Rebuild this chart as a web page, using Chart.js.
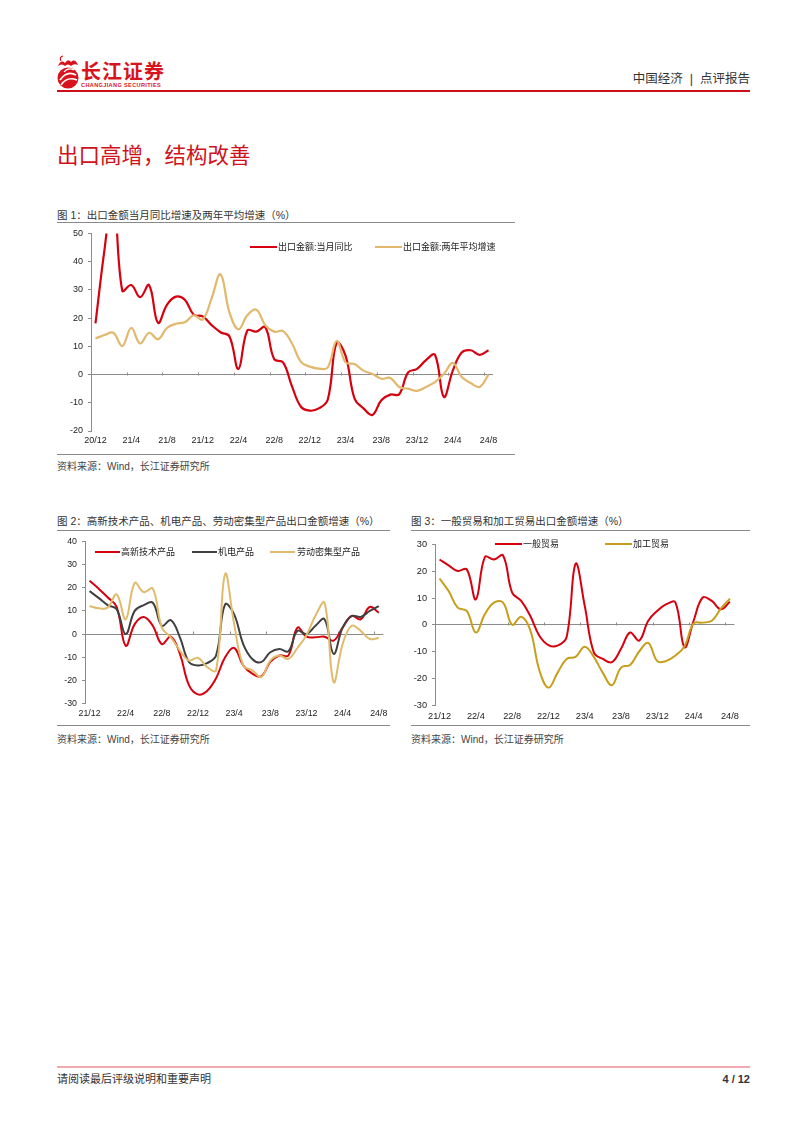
<!DOCTYPE html>
<html lang="zh-CN">
<head>
<meta charset="utf-8">
<script src="https://cdn.jsdelivr.net/npm/chart.js@4.4.1/dist/chart.umd.min.js"></script>
<style>
html,body{margin:0;padding:0;background:#fff;}
#page{position:relative;width:802px;height:1133px;overflow:hidden;font-family:"Liberation Sans","Noto Sans CJK SC",sans-serif;color:#333;}
.t{position:absolute;white-space:pre;line-height:1;}
.hr{position:absolute;height:1px;background:#8a8a8a;}
canvas{position:absolute;}
.lg-line{position:absolute;height:2px;}
</style>
</head>
<body>
<div id="page">
  <svg style="position:absolute;left:55px;top:55px" width="26" height="36" viewBox="0 0 26 36">
    <path d="M3 11 Q6 4 10 8 Q13 3 16 7 Q20 3 23 10 Q19 8 16 11 Q13 8 10 11 Q7 8 3 11 Z" fill="#d7141e"/>
    <path d="M6 6 Q4 2 8 1" stroke="#d7141e" stroke-width="1.2" fill="none"/>
    <circle cx="13" cy="23" r="10.5" fill="#d7141e"/>
    <path d="M5 25 Q12 15 21 20" stroke="#fff" stroke-width="1.6" fill="none"/>
    <path d="M6 30 Q12 21 22 25" stroke="#fff" stroke-width="1.6" fill="none"/>
    <path d="M9 17 Q13 12 19 15" stroke="#fff" stroke-width="1.2" fill="none"/>
  </svg>
  <div class="t" style="left:81px;top:61px;font-size:20px;font-weight:bold;color:#d7141e;letter-spacing:1px;font-family:'Noto Sans CJK SC',sans-serif;">长江证券</div>
  <div class="t" style="left:81px;top:83px;font-size:5.6px;font-weight:bold;color:#d7141e;letter-spacing:0.35px;">CHANGJIANG SECURITIES</div>
  <canvas id="c1"></canvas>
  <canvas id="c2"></canvas>
  <canvas id="c3"></canvas>
</div>
<script>
// ---------------- DATA ----------------
const months1 = ['20/12','21/1','21/2','21/3','21/4','21/5','21/6','21/7','21/8','21/9','21/10','21/11','21/12',
  '22/1','22/2','22/3','22/4','22/5','22/6','22/7','22/8','22/9','22/10','22/11','22/12',
  '23/1','23/2','23/3','23/4','23/5','23/6','23/7','23/8','23/9','23/10','23/11','23/12',
  '24/1','24/2','24/3','24/4','24/5','24/6','24/7','24/8'];
const tickLabels1 = ['20/12','21/4','21/8','21/12','22/4','22/8','22/12','23/4','23/8','23/12','24/4','24/8'];
const seriesNames1 = ['出口金额:当月同比', '出口金额:两年平均增速'];
const exportYoY = [18.1, 44, 65, 29.7, 31.7, 27.4, 31.7, 18.3, 24.7, 27.6, 26.5, 21.2, 20.6,
  17.5, 15.0, 13.5, 2.0, 15.6, 15.2, 16.8, 5.5, 4.3, -4.2, -11.4, -12.8,
  -12.0, -8.9, 11.3, 6.6, -8.5, -12.0, -14.3, -9.1, -7.1, -7.0, 0.8, 2.0,
  5.1, 7.0, -7.9, 1.4, 7.8, 8.6, 7.0, 8.6];
const exportTwoYear = [12.8, 14.0, 14.8, 10.1, 16.5, 11.0, 14.8, 12.5, 16.5, 18.0, 18.5, 21.0, 19.5,
  27.0, 35.5, 22.0, 16.0, 21.0, 23.0, 17.5, 15.2, 15.4, 11.0, 4.5, 2.8,
  2.1, 2.5, 11.9, 4.3, 3.7, 1.4, 0.2, -1.5, -1.2, -4.4, -5.0, -5.8,
  -4.4, -2.7, 0.2, 4.1, -0.9, -3.0, -4.4, 0.0];

const months23 = ['21/12',
  '22/1','22/2','22/3','22/4','22/5','22/6','22/7','22/8','22/9','22/10','22/11','22/12',
  '23/1','23/2','23/3','23/4','23/5','23/6','23/7','23/8','23/9','23/10','23/11','23/12',
  '24/1','24/2','24/3','24/4','24/5','24/6','24/7','24/8'];
const tickLabels23 = ['21/12','22/4','22/8','22/12','23/4','23/8','23/12','24/4','24/8'];
const seriesNames2 = ['高新技术产品', '机电产品', '劳动密集型产品'];
const hiTech = [23.0, 19.6, 15.9, 11.7, -5.0, 4.3, 7.4, 3.6, -4.3, -1.1, -8.5, -22.0, -26.0,
  -24.5, -19.0, -10.0, -6.0, -13.5, -17.0, -18.2, -12.0, -9.2, -9.2, 2.8, -1.1,
  -1.4, -1.1, -2.8, 2.8, 7.8, 6.4, 11.7, 9.2];
const mechElec = [18.5, 15.6, 12.5, 10.7, 0.0, 10.0, 12.5, 13.5, 3.6, 6.0, -1.4, -12.0, -13.5,
  -12.5, -9.2, 12.8, 8.5, -4.3, -10.7, -12.1, -7.8, -6.4, -7.4, 1.4, 0.0,
  3.6, 6.4, -8.5, 2.8, 7.8, 7.4, 10.0, 12.1];
const laborInt = [12.1, 11.1, 11.4, 17.1, 6.4, 22.0, 18.1, 19.6, 2.8, -1.4, -7.1, -11.4, -10.2,
  -14.2, -15.6, 25.9, 4.3, -13.5, -15.6, -18.5, -11.4, -9.2, -10.7, -6.0, -0.5,
  8.0, 13.5, -20.6, -4.3, 3.6, 1.4, -2.1, -1.7];

const seriesNames3 = ['一般贸易', '加工贸易'];
const generalTrade = [24.4, 22.2, 20.1, 20.7, 9.5, 25.3, 24.4, 25.9, 12.0, 8.9, 3.3, -4.1, -7.6,
  -7.8, -4.7, 22.8, 7.1, -10.3, -12.8, -14.0, -9.0, -2.9, -5.9, 1.5, 5.2,
  7.7, 8.3, -8.4, 1.5, 10.2, 8.9, 5.8, 8.6];
const processingTrade = [17.3, 12.6, 6.4, 5.2, -2.9, 4.0, 8.3, 8.3, 0.0, 3.0, -2.0, -17.0, -23.5,
  -18.0, -12.8, -12.0, -8.2, -12.0, -18.0, -22.6, -16.0, -15.0, -10.0, -6.8, -13.6,
  -13.5, -11.5, -8.0, 0.5, 0.8, 1.5, 6.0, 9.8];

// ---------------- STYLE / LAYOUT ----------------
const RED = '#d7000f', GOLD1 = '#e2b86c', GRAY2 = '#404040', GOLD2 = '#e0bb6c', GOLD3 = '#c79e1c';
const AXIS = '#8c8c8c';
Chart.defaults.font.family = '"Liberation Sans", Arial, "Noto Sans CJK SC", sans-serif';
Chart.defaults.color = '#222';

const page = document.getElementById('page');
function addText(str, x, cy, size, opts) {
  opts = opts || {};
  const d = document.createElement('div');
  d.className = 't';
  d.textContent = str;
  d.style.fontSize = size + 'px';
  d.style.top = (cy - 0.5 * size) + 'px';
  if (opts.right) d.style.right = (802 - x) + 'px'; else d.style.left = x + 'px';
  d.style.color = opts.color || '#333';
  if (opts.bold) d.style.fontWeight = 'bold';
  page.appendChild(d);
}
function addLine(x1, x2, y, color, h) {
  const d = document.createElement('div');
  d.className = 'hr';
  d.style.left = x1 + 'px'; d.style.width = (x2 - x1) + 'px'; d.style.top = y + 'px';
  if (color) d.style.background = color;
  if (h) d.style.height = h + 'px';
  page.appendChild(d);
}
function addLegend(items) {
  items.forEach(it => {
    const l = document.createElement('div');
    l.className = 'lg-line';
    l.style.left = it.x1 + 'px'; l.style.width = (it.x2 - it.x1) + 'px';
    l.style.top = (it.cy - 1) + 'px'; l.style.background = it.color;
    page.appendChild(l);
    addText(it.name, it.tx, it.cy, it.size, {color: '#222'});
  });
}

// page texts
addText('中国经济  |  点评报告', 750, 79, 12.5, {right: true, color: '#333'});
addLine(57, 750, 90, '#cc1019', 2);
addText('出口高增，结构改善', 57, 157, 21.5, {color: '#d0121b'});
addText('图 1：出口金额当月同比增速及两年平均增速（%）', 57, 215, 10.5);
addLine(57, 515, 222);
addLine(57, 515, 454);
addText('资料来源：Wind，长江证券研究所', 57, 467, 10, {color: '#444'});
addText('图 2：高新技术产品、机电产品、劳动密集型产品出口金额增速（%）', 57, 521, 10.5);
addText('图 3：一般贸易和加工贸易出口金额增速（%）', 411, 521, 10.5);
addLine(57, 390, 530); addLine(411, 750, 530);
addLine(57, 390, 725); addLine(411, 750, 725);
addText('资料来源：Wind，长江证券研究所', 57, 740, 10, {color: '#444'});
addText('资料来源：Wind，长江证券研究所', 411, 740, 10, {color: '#444'});
addLine(57, 750, 1066, '#f2aab1', 1.5);
addText('请阅读最后评级说明和重要声明', 57, 1079, 11, {color: '#333'});
addText('4 / 12', 750, 1079, 11, {right: true, bold: true, color: '#333'});

// tick marks on the zero line at every labelled category boundary
const zeroTicks = {
  id: 'zeroTicks',
  beforeDatasetsDraw(chart, args, opts) {
    const xs = chart.scales.x, ys = chart.scales.y;
    const y0 = Math.round(ys.getPixelForValue(0)) + 0.5;
    const w = xs.getPixelForValue(1) - xs.getPixelForValue(0);
    const labels = chart.data.labels;
    const ctx = chart.ctx;
    ctx.save();
    ctx.strokeStyle = AXIS; ctx.lineWidth = 1;
    ctx.beginPath();
    labels.forEach((lab, i) => {
      if (i > 0 && opts.ticks.includes(lab)) {
        const px = Math.round(xs.getPixelForValue(i) - w / 2) + 0.5;
        ctx.moveTo(px, y0); ctx.lineTo(px, y0 - 3);
      }
    });
    ctx.stroke();
    ctx.restore();
  }
};

function makeChart(id, cfg) {
  const a = cfg.area;
  const cl = Math.floor(a.left - cfg.yW), ct = Math.floor(a.top - cfg.padTop);
  const cw = Math.ceil(a.right + cfg.padRight - cl), ch = Math.ceil(a.bottom + cfg.xH - ct);
  const yW = a.left - cl, padTop = a.top - ct, padRight = cl + cw - a.right, xH = ct + ch - a.bottom;
  const cv = document.getElementById(id);
  cv.width = cw; cv.height = ch;
  cv.style.left = cl + 'px'; cv.style.top = ct + 'px';
  cv.style.width = cw + 'px'; cv.style.height = ch + 'px';
  const n = cfg.datasets.length;
  return new Chart(cv, {
    type: 'line',
    data: {
      labels: cfg.labels,
      datasets: cfg.datasets.map((d, i) => ({
        label: d.name, data: d.data, borderColor: d.color, backgroundColor: d.color,
        borderWidth: cfg.lw, pointRadius: 0, pointHoverRadius: 0, tension: 0.4, fill: false,
        borderJoinStyle: 'round', order: n - i
      }))
    },
    options: {
      responsive: false, animation: false, devicePixelRatio: 1,
      layout: {padding: {left: 0, top: padTop, right: padRight, bottom: 0}},
      plugins: {legend: {display: false}, tooltip: {enabled: false}, zeroTicks: {ticks: cfg.tickLabels}},
      events: [],
      scales: {
        x: {
          type: 'category', offset: true,
          grid: {display: false, drawTicks: false, tickLength: 0}, border: {display: false},
          ticks: {
            autoSkip: false, maxRotation: 0, minRotation: 0, padding: cfg.xPad,
            font: {size: cfg.xFont}, color: '#222',
            callback: function (v) { const l = this.getLabelForValue(v); return cfg.tickLabels.includes(l) ? l : ''; }
          },
          afterFit: s => { s.height = xH; }
        },
        y: {
          min: cfg.yMin, max: cfg.yMax,
          ticks: {stepSize: 10, padding: 5, font: {size: cfg.yFont}, color: '#222'},
          grid: {
            color: c => (c.tick && c.tick.value === 0) ? AXIS : 'rgba(0,0,0,0)',
            tickColor: AXIS, tickLength: 3, lineWidth: 1
          },
          border: {display: true, color: AXIS, width: 1},
          afterFit: s => { s.width = yW; }
        }
      }
    },
    plugins: [zeroTicks]
  });
}

makeChart('c1', {
  area: {left: 91, top: 231.5, right: 493, bottom: 431},
  yW: 34, padTop: 8.5, padRight: 10, xH: 20, xPad: 4.6, xFont: 9, yFont: 9, lw: 2.2,
  yMin: -20, yMax: 50, labels: months1, tickLabels: tickLabels1,
  datasets: [
    {name: seriesNames1[0], data: exportYoY, color: RED},
    {name: seriesNames1[1], data: exportTwoYear, color: GOLD1}
  ]
});
makeChart('c2', {
  area: {left: 85, top: 539.7, right: 383.3, bottom: 703.7},
  yW: 28, padTop: 8.5, padRight: 10, xH: 20, xPad: 5, xFont: 8.8, yFont: 8.8, lw: 2,
  yMin: -30, yMax: 40, labels: months23, tickLabels: tickLabels23,
  datasets: [
    {name: seriesNames2[0], data: hiTech, color: RED},
    {name: seriesNames2[1], data: mechElec, color: GRAY2},
    {name: seriesNames2[2], data: laborInt, color: GOLD2}
  ]
});
makeChart('c3', {
  area: {left: 435, top: 543.3, right: 735, bottom: 705},
  yW: 28, padTop: 8.5, padRight: 10, xH: 19.5, xPad: 6, xFont: 9.2, yFont: 9.2, lw: 2,
  yMin: -30, yMax: 30, labels: months23, tickLabels: tickLabels23,
  datasets: [
    {name: seriesNames3[0], data: generalTrade, color: RED},
    {name: seriesNames3[1], data: processingTrade, color: GOLD3}
  ]
});

addLegend([
  {name: seriesNames1[0], color: RED, x1: 250, x2: 277, tx: 278, cy: 247, size: 9},
  {name: seriesNames1[1], color: GOLD1, x1: 375, x2: 402, tx: 403, cy: 247, size: 9},
  {name: seriesNames2[0], color: RED, x1: 95, x2: 120, tx: 121, cy: 552, size: 9},
  {name: seriesNames2[1], color: GRAY2, x1: 192, x2: 217, tx: 218, cy: 552, size: 9},
  {name: seriesNames2[2], color: GOLD2, x1: 270, x2: 295, tx: 297, cy: 552, size: 9},
  {name: seriesNames3[0], color: RED, x1: 495, x2: 522, tx: 523, cy: 544, size: 9},
  {name: seriesNames3[1], color: GOLD3, x1: 605, x2: 632, tx: 633, cy: 544, size: 9}
]);
</script>
</body>
</html>
